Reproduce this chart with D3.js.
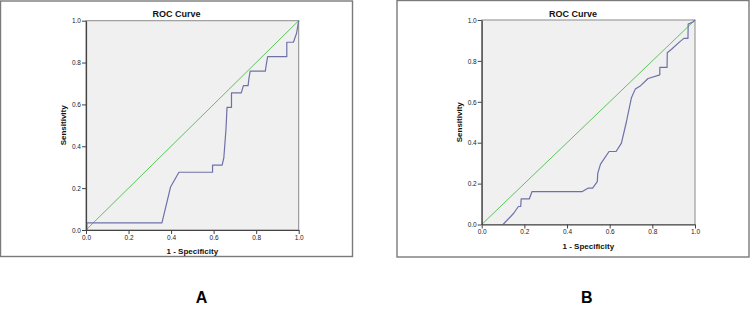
<!DOCTYPE html>
<html>
<head>
<meta charset="utf-8">
<script src="https://cdn.jsdelivr.net/npm/d3@7"></script>
<style>
  html, body { margin: 0; padding: 0; background: #fff; }
  svg { display: block; }
  text { font-family: "Liberation Sans", Arial, sans-serif; }
</style>
</head>
<body>
<div id="chart"></div>
<script>
// ROC data: [1 - specificity, sensitivity]
const rocA = [
  [0, 0], [0.004, 0], [0.004, 0.034], [0.357, 0.034], [0.398, 0.207], [0.437, 0.276],
  [0.595, 0.276], [0.595, 0.31], [0.64, 0.31], [0.648, 0.345], [0.658, 0.48],
  [0.663, 0.586], [0.684, 0.586], [0.684, 0.655], [0.73, 0.655], [0.74, 0.69],
  [0.762, 0.69], [0.766, 0.724], [0.772, 0.759], [0.843, 0.759], [0.848, 0.793],
  [0.854, 0.828], [0.944, 0.828], [0.944, 0.897], [0.975, 0.897], [0.99, 0.94], [1, 1]
];

const rocB = [
  [0.1, 0], [0.15, 0.055], [0.172, 0.088], [0.183, 0.088], [0.185, 0.125],
  [0.223, 0.125], [0.236, 0.161], [0.472, 0.161], [0.5, 0.178], [0.52, 0.178],
  [0.542, 0.21], [0.544, 0.25], [0.557, 0.295], [0.597, 0.357], [0.63, 0.357],
  [0.655, 0.398], [0.678, 0.5], [0.702, 0.62], [0.72, 0.662], [0.745, 0.679],
  [0.78, 0.714], [0.835, 0.732], [0.835, 0.768], [0.869, 0.768], [0.87, 0.84],
  [0.89, 0.857], [0.928, 0.893], [0.948, 0.91], [0.967, 0.91], [0.968, 0.98],
  [0.99, 0.99], [1, 1]
];

const refLine = [[0, 0], [1, 1]];
const axisTicks = [0, 0.2, 0.4, 0.6, 0.8, 1.0];

const panelTitle = "ROC Curve";
const xTitle = "1 - Specificity";
const yTitle = "Sensitivity";

const width = 750, height = 321;

const svg = d3.select("#chart").append("svg")
  .attr("width", width)
  .attr("height", height);

// frame + plot box for each panel
const panels = [
  { label: "A", data: rocA,
    frame: { x: 0.5, y: 1, w: 352, h: 255.5 },
    plot: { left: 86, right: 298.7, top: 20.7, bottom: 230 },
    labelX: 201.5 },
  { label: "B", data: rocB,
    frame: { x: 397, y: 0.5, w: 352, h: 256.5 },
    plot: { left: 481.7, right: 695, top: 20, bottom: 224.5 },
    labelX: 586.7 }
];

panels.forEach(p => drawPanel(p));

function drawPanel(p) {
  const f = p.frame, m = p.plot;

  svg.append("rect")
    .attr("x", f.x).attr("y", f.y)
    .attr("width", f.w).attr("height", f.h)
    .attr("fill", "none")
    .attr("stroke", "#7a7a7a")
    .attr("stroke-width", 1.4);

  const x = d3.scaleLinear().domain([0, 1]).range([m.left, m.right]);
  const y = d3.scaleLinear().domain([0, 1]).range([m.bottom, m.top]);

  const g = svg.append("g");

  // plot background
  g.append("rect")
    .attr("x", m.left).attr("y", m.top)
    .attr("width", m.right - m.left).attr("height", m.bottom - m.top)
    .attr("fill", "#f0f0f0")
    .attr("stroke", "#8a8a8a")
    .attr("stroke-width", 1);

  const line = d3.line().x(d => x(d[0])).y(d => y(d[1]));

  g.append("path")
    .datum(refLine)
    .attr("fill", "none")
    .attr("stroke", "#5cc45c")
    .attr("stroke-width", 1)
    .attr("d", line);

  g.append("path")
    .datum(p.data)
    .attr("fill", "none")
    .attr("stroke", "#6d71a8")
    .attr("stroke-width", 1.2)
    .attr("stroke-linejoin", "round")
    .attr("d", line);

  // axes
  const fmt = d3.format(".1f");
  const xAxis = g.append("g")
    .attr("transform", `translate(0,${m.bottom})`)
    .call(d3.axisBottom(x).tickValues(axisTicks).tickFormat(fmt)
      .tickSize(4).tickSizeOuter(0).tickPadding(1));

  const yAxis = g.append("g")
    .attr("transform", `translate(${m.left},0)`)
    .call(d3.axisLeft(y).tickValues(axisTicks).tickFormat(fmt)
      .tickSize(4).tickSizeOuter(0).tickPadding(1));

  [xAxis, yAxis].forEach(a => {
    a.select(".domain").attr("stroke", "#444").attr("stroke-width", 1.2);
    a.selectAll(".tick line").attr("stroke", "#444");
    a.selectAll(".tick text")
      .attr("font-size", 6.5)
      .attr("fill", "#222")
      .style("font-family", "'Liberation Sans', Arial, sans-serif");
  });
  yAxis.selectAll(".tick text").attr("dy", "0.35em");

  // titles
  svg.append("text")
    .attr("x", f.x + f.w / 2)
    .attr("y", 16.5)
    .attr("text-anchor", "middle")
    .attr("font-size", 9)
    .attr("font-weight", "bold")
    .attr("fill", "#111")
    .text(panelTitle);

  svg.append("text")
    .attr("x", (m.left + m.right) / 2)
    .attr("y", m.bottom + 24)
    .attr("text-anchor", "middle")
    .attr("font-size", 8)
    .attr("font-weight", "bold")
    .attr("fill", "#111")
    .text(xTitle);

  svg.append("text")
    .attr("transform", `translate(${m.left - 20},${(m.top + m.bottom) / 2}) rotate(-90)`)
    .attr("text-anchor", "middle")
    .attr("font-size", 8)
    .attr("font-weight", "bold")
    .attr("fill", "#111")
    .text(yTitle);

  // panel letter
  svg.append("text")
    .attr("x", p.labelX)
    .attr("y", 303.3)
    .attr("text-anchor", "middle")
    .attr("font-size", 16)
    .attr("font-weight", "bold")
    .attr("fill", "#000")
    .text(p.label);
}
</script>
</body>
</html>
